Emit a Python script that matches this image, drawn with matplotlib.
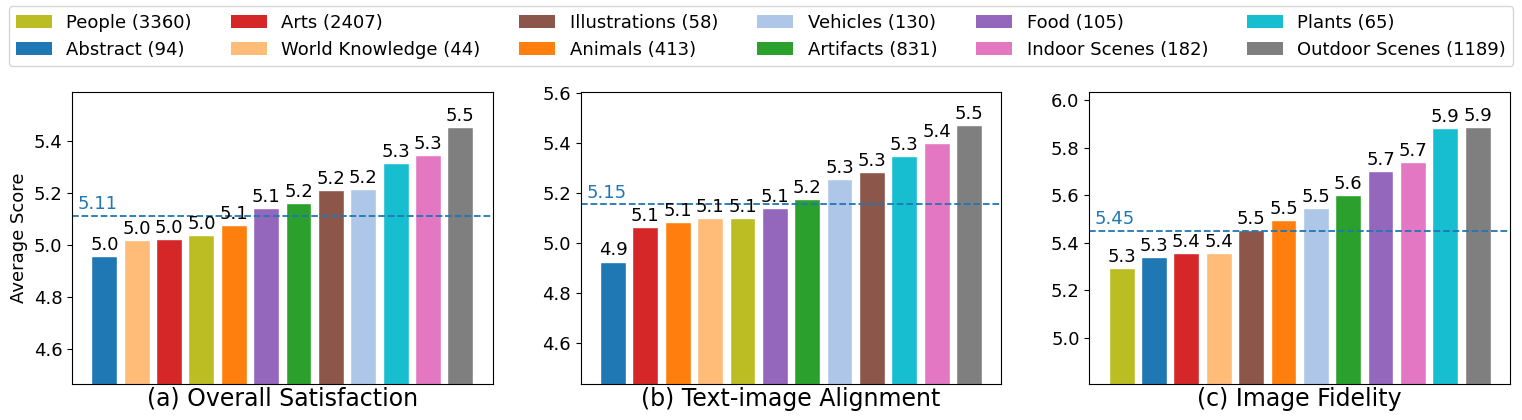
import matplotlib
matplotlib.use("Agg")
import matplotlib.pyplot as plt
import matplotlib.transforms as mtransforms
from matplotlib.patches import Patch

# categories (legend order) and number of prompts in each
categories = ["People", "Abstract", "Arts", "World Knowledge", "Illustrations", "Animals",
              "Vehicles", "Artifacts", "Food", "Indoor Scenes", "Plants", "Outdoor Scenes"]
counts = [3360, 94, 2407, 44, 58, 413, 130, 831, 105, 182, 65, 1189]
colors = ["#bcbd22", "#1f77b4", "#d62728", "#ffbb78", "#8c564b", "#ff7f0e",
          "#aec7e8", "#2ca02c", "#9467bd", "#e377c2", "#17becf", "#7f7f7f"]

# average scores per category (same order as categories)
overall = [5.038, 4.959, 5.022, 5.019, 5.213, 5.077, 5.217, 5.160, 5.141, 5.345, 5.314, 5.454]
alignment = [5.100, 4.924, 5.064, 5.098, 5.283, 5.083, 5.254, 5.175, 5.140, 5.397, 5.347, 5.469]
fidelity = [5.292, 5.338, 5.355, 5.357, 5.451, 5.494, 5.546, 5.601, 5.703, 5.738, 5.882, 5.888]

# overall (weighted) mean of each metric
means = [5.113, 5.153, 5.448]
titles = ["(a) Overall Satisfaction", "(b) Text-image Alignment", "(c) Image Fidelity"]
ylims = [(4.465, 5.59), (4.434, 5.604), (4.805, 6.035)]

fig, axes = plt.subplots(1, 3, figsize=(15.22, 4.2), dpi=100)
fig.subplots_adjust(left=0.0473, right=0.9921, bottom=0.0857, top=0.7817, wspace=0.2092)

for ax, vals, m, title, yl in zip(axes, [overall, alignment, fidelity], means, titles, ylims):
    order = sorted(range(len(categories)), key=lambda i: vals[i])
    v = [vals[i] for i in order]
    c = [colors[i] for i in order]
    bars = ax.bar(range(len(v)), v, width=0.8, color=c, edgecolor="white", linewidth=1)
    ax.bar_label(bars, labels=[f"{x:.1f}" for x in v], padding=1.5, fontsize=13)
    ax.axhline(m, color="#1f77b4", linestyle="--", linewidth=1.3)
    trans = mtransforms.blended_transform_factory(ax.transAxes, ax.transData)
    ax.annotate(f"{m:.2f}", xy=(0, m), xycoords=trans, xytext=(4, 2),
                textcoords="offset points", va="bottom", ha="left",
                color="#1f77b4", fontsize=13)
    ax.set_xlim(-1, 12)
    ax.set_ylim(*yl)
    ax.set_xticks([])
    ax.tick_params(axis="y", labelsize=13)
    ax.set_xlabel(title, fontsize=17, labelpad=2)

axes[0].set_ylabel("Average Score", fontsize=13)

handles = [Patch(facecolor=col) for col in colors]
labels = [f"{n} ({k})" for n, k in zip(categories, counts)]
fig.legend(handles, labels, loc="upper center", bbox_to_anchor=(0.5, 1.0),
           ncol=6, fontsize=13, columnspacing=2.15, borderaxespad=0.35)

fig.savefig("out.png", dpi=100)
